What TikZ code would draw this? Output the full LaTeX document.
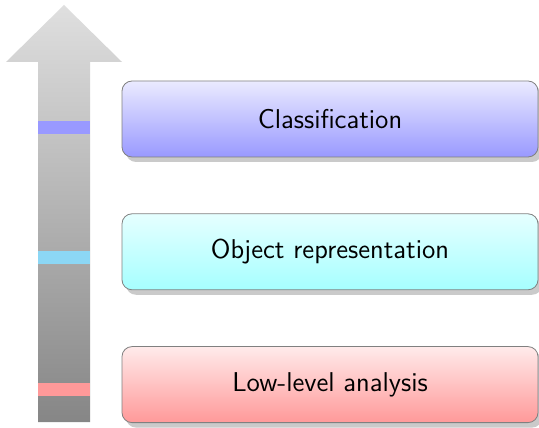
\documentclass[tikz,border=0pt]{standalone}
\usepackage{tikz}
\usetikzlibrary{positioning,shadows}

\definecolor{bandblue}{HTML}{9999FF}
\definecolor{bandcyan}{HTML}{8CD7F5}
\definecolor{bandred}{HTML}{FF9999}

\tikzset{
  stage/.style={draw=black!50, rounded corners=5pt, minimum width=208pt,
    minimum height=38pt, font=\sffamily\fontsize{13.6}{16}\selectfont,
    drop shadow={shadow xshift=2pt, shadow yshift=-2.5pt, fill=black!35, opacity=.6}},
}

\begin{document}
\begin{tikzpicture}[x=0.5pt,y=0.5pt]
\useasboundingbox (0,0) rectangle (539,427);

% the big arrow pointing up
\shade[top color=gray!25, bottom color=gray!95]
  (38,5) -- (38,365) -- (6,365) -- (64,422) -- (122,365) -- (90,365) -- (90,5) -- cycle;

% coloured marks on the arrow, one per stage
\foreach \y/\c in {299/bandblue, 169/bandcyan, 37/bandred}{%
    \fill[\c] (38,\y-6.5) rectangle (90,\y+6.5);}

% the three stages
\node[stage, top color=blue!8, bottom color=blue!40] (cls) at (330,308) {Classification};
\node[stage, top color=cyan!10, bottom color=cyan!35, below=28pt of cls] (obj) {Object representation};
\node[stage, top color=red!8, bottom color=red!40, below=28pt of obj] (low) {Low-level analysis};

\end{tikzpicture}
\end{document}
